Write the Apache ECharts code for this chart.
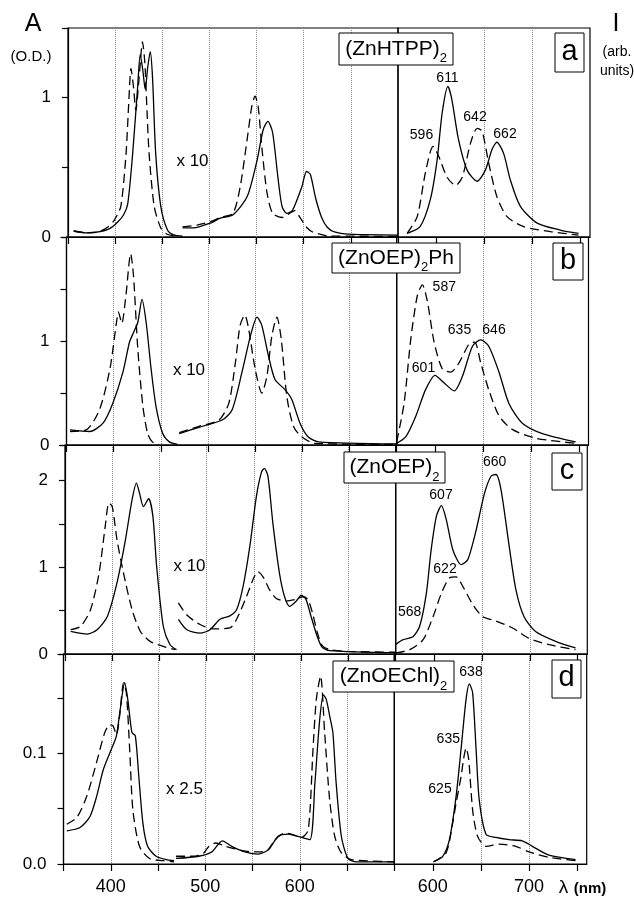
<!DOCTYPE html>
<html><head><meta charset="utf-8">
<script src="https://cdn.jsdelivr.net/npm/echarts@6/dist/echarts.min.js"></script>
<style>html,body{margin:0;padding:0;background:#fff}#c{width:634px;height:899px}</style>
</head><body><div id="c"></div><script>
// ---------- tick / label values ----------
const leftXTicks = [400, 450, 500, 550, 600, 650];
const leftXLabels = [400, 500, 600];
const rightXTicks = [600, 650, 700, 750];
const rightXLabels = [600, 700];
const yLabelsA = [0, 1];
const yLabelsB = [0, 1];
const yLabelsC = [0, 1, 2];
const yLabelsD = [0, 0.1];

// ---------- panel a: (ZnHTPP)2 ----------
const aSoretSolid = [[356,0.043],[369,0.03],[382,0.036],[394,0.06],[403,0.11],[409,0.16],[413.4,0.24],[418.6,0.6],[423.9,1.08],[426.6,1.31],[429.3,1.2],[431.9,1.06],[434.6,1.22],[437.2,1.33],[439.6,1.15],[443,0.6],[448.4,0.22],[455.5,0.05],[462,0.015],[471.5,0.007]];
const aSoretDashed = [[356,0.043],[369,0.03],[382,0.036],[392,0.07],[399,0.12],[406,0.22],[411.6,0.6],[414.4,0.96],[416.8,1.21],[419.4,1.08],[422,0.91],[425.5,1.15],[429,1.40],[431.5,1.25],[433.5,0.95],[436,0.6],[441.4,0.22],[448.4,0.065],[455,0.02],[467,0.003]];
const aQSolid = [[471.5,0.065],[483,0.065],[501,0.10],[511.6,0.135],[525,0.16],[540,0.29],[550.5,0.55],[557,0.77],[562,0.83],[567,0.75],[572.6,0.43],[577,0.22],[582,0.17],[588,0.19],[598,0.36],[603,0.47],[607,0.45],[612.6,0.28],[619,0.14],[625,0.07],[632.6,0.036],[648,0.02],[700,0.014]];
const aQDashed = [[471.5,0.072],[487,0.086],[501,0.11],[511.6,0.14],[525,0.17],[532.6,0.36],[540,0.70],[545,0.94],[548.4,1.01],[551.6,0.94],[555.8,0.63],[561,0.32],[567,0.17],[577,0.14],[585,0.17],[590.5,0.19],[596,0.14],[603,0.07],[609.5,0.036],[627,0.007],[700,0.005]];
const aEmSolid = [[569.5,0.026],[583,0.074],[593.7,0.27],[600.7,0.55],[606,0.89],[612,1.08],[616,0.99],[623,0.70],[632,0.48],[642.4,0.40],[651,0.48],[658,0.63],[663,0.68],[670,0.60],[677,0.41],[687.5,0.22],[705,0.10],[729,0.05],[748,0.026]];
const aEmDashed = [[569.5,0.026],[580,0.146],[588.5,0.46],[596.5,0.65],[602.4,0.58],[611,0.43],[620,0.37],[627,0.43],[635.4,0.67],[642.4,0.78],[647.6,0.76],[654.5,0.53],[663,0.29],[673.6,0.146],[691,0.074],[719,0.038],[748,0.014]];

// ---------- panel b: (ZnOEP)2Ph ----------
const bSoretSolid = [[353.7,0.146],[374.7,0.13],[388.7,0.21],[399,0.40],[409.8,0.70],[416.8,0.99],[421,1.08],[425.6,1.18],[430,1.40],[434.4,1.18],[439.7,0.73],[444.9,0.37],[452,0.11],[459,0.03],[467.7,0.006]];
const bSoretDashed = [[353.7,0.13],[371,0.146],[385,0.34],[396,0.73],[403,1.18],[405,1.28],[408.6,1.17],[413,1.44],[418,1.84],[421,1.63],[425.6,0.92],[431,0.37],[436,0.11],[441,0.03],[448,0.006]];
const bQSolid = [[469.5,0.11],[490.5,0.17],[515,0.24],[525.6,0.34],[536,0.70],[545,1.05],[552,1.23],[557,1.15],[564,0.86],[571,0.63],[581.8,0.53],[588.7,0.44],[597.5,0.21],[606,0.08],[617,0.03],[700,0.01]];
const bQDashed = [[469.5,0.12],[490.5,0.18],[511.6,0.24],[522,0.40],[529,0.79],[534,1.15],[539,1.25],[543,1.12],[550,0.73],[557,0.50],[562.4,0.66],[567.7,1.05],[573,1.23],[577.6,1.02],[583.5,0.47],[590.5,0.18],[599,0.08],[613,0.016],[700,0.005]];
const bEmSolid = [[560,0.016],[569.5,0.08],[580,0.28],[590,0.53],[600,0.67],[609,0.60],[620,0.52],[628.5,0.66],[639,0.95],[647.6,1.01],[656,0.95],[666.7,0.70],[677,0.40],[691,0.21],[712,0.11],[746.6,0.03]];
const bEmDashed = [[560,0.03],[567.7,0.40],[574.7,1.02],[581.6,1.44],[586.8,1.54],[592,1.38],[599,0.99],[607.6,0.73],[616.4,0.70],[625,0.79],[635.4,0.97],[641.3,0.99],[647.6,0.79],[656,0.53],[666.7,0.28],[680.5,0.15],[705,0.065],[746.6,0.016]];

// ---------- panel c: (ZnOEP)2 ----------
const cSoretSolid = [[356,0.26],[373.7,0.23],[384,0.28],[394.7,0.43],[405,0.82],[414,1.32],[421,1.78],[425.6,1.97],[429,1.85],[433,1.70],[438.5,1.79],[443,1.59],[447,1.01],[454,0.32],[461,0.11],[468,0.05]];
const cSoretDashed = [[356,0.28],[366.6,0.32],[377,0.51],[386,0.93],[393,1.51],[396.4,1.74],[400,1.70],[405,1.32],[412,0.93],[421,0.51],[429.8,0.26],[440,0.146],[454,0.088],[466.6,0.05]];
const cQSolid = [[470,0.40],[479,0.28],[493,0.24],[503.5,0.28],[514,0.40],[524.5,0.44],[531.6,0.51],[538.5,0.78],[545.6,1.24],[552.6,1.82],[558,2.10],[561,2.14],[564.8,2.05],[570,1.51],[577,0.93],[582.4,0.66],[587.7,0.55],[594.7,0.61],[600,0.68],[605,0.63],[610.5,0.43],[617,0.20],[622,0.08],[630,0.04],[700,0.015]];
const cQDashed = [[470,0.59],[479,0.45],[493,0.34],[507,0.29],[524.5,0.30],[531.6,0.40],[542,0.66],[549,0.86],[554,0.95],[559.6,0.89],[566.6,0.74],[573.7,0.64],[584,0.61],[594.7,0.63],[601.7,0.66],[607,0.63],[612,0.47],[617,0.25],[622,0.10],[630,0.05],[650,0.03],[700,0.02]];
const cEmSolid = [[560,0.11],[567.8,0.165],[578,0.20],[585,0.32],[592,0.70],[597,1.20],[602.5,1.59],[607.7,1.71],[612.8,1.55],[619.7,1.20],[628.4,1.03],[635.3,1.09],[644,1.43],[652.6,1.85],[659.5,2.05],[664.7,2.07],[670,1.89],[678.5,1.24],[685.5,0.74],[694,0.43],[706,0.26],[727,0.146],[747.7,0.07]];
const cEmDashed = [[560,0.012],[574.8,0.05],[588.6,0.165],[599,0.43],[607.7,0.70],[616.3,0.88],[623,0.89],[630,0.78],[640.5,0.57],[650.8,0.43],[664.7,0.38],[682,0.30],[699,0.18],[720,0.107],[747.7,0.05]];

// ---------- panel d: (ZnOEChl)2 ----------
const dSoretSolid = [[353.5,0.03],[367.5,0.033],[378,0.043],[385,0.061],[392,0.085],[400.7,0.104],[406,0.116],[410,0.14],[414.7,0.164],[418,0.149],[422.4,0.119],[426,0.116],[429.7,0.079],[434,0.037],[439,0.016],[448,0.007],[458.5,0.004],[467,0.003]];
const dSoretDashed = [[353.5,0.036],[364,0.042],[374.5,0.061],[385,0.092],[393.7,0.119],[399,0.126],[402.4,0.125],[406,0.117],[409.4,0.134],[413.6,0.164],[416.5,0.155],[420,0.104],[423.4,0.049],[430.4,0.016],[441,0.005],[455,0.003],[467,0.002]];
const dQSolid = [[469,0.005],[493,0.007],[507,0.011],[518,0.021],[528,0.016],[542,0.011],[556,0.009],[567,0.013],[577,0.025],[588,0.027],[598,0.025],[610.6,0.022],[616,0.073],[621,0.13],[625,0.153],[628,0.149],[631.6,0.134],[635,0.119],[638.5,0.073],[644,0.025],[651,0.005],[660,0.002],[700,0.002]];
const dQDashed = [[469,0.007],[486,0.007],[497,0.009],[504,0.016],[511,0.019],[521.4,0.016],[535,0.013],[549,0.011],[563.4,0.011],[574,0.022],[584,0.028],[595,0.026],[601.8,0.024],[609,0.031],[614,0.104],[617.5,0.149],[622,0.170],[626.3,0.119],[631.6,0.058],[637,0.025],[644,0.01],[654.5,0.004],[700,0.002]];
const dEmSolid = [[600.7,0.002],[610.4,0.007],[617.3,0.022],[624.2,0.061],[629.4,0.104],[634.6,0.149],[638,0.163],[641.4,0.155],[645,0.104],[648.3,0.058],[655.3,0.027],[665.6,0.024],[679.4,0.022],[693,0.021],[703.5,0.016],[720.8,0.008],[748.4,0.004]];
const dEmDashed = [[600.7,0.002],[613.8,0.01],[620.7,0.037],[624.2,0.055],[629.4,0.079],[632,0.095],[634.6,0.105],[637.3,0.095],[641.4,0.049],[646.6,0.025],[655.3,0.016],[669,0.018],[686.3,0.016],[700,0.011],[720.8,0.006],[748.4,0.003]];

// ---------- layout ----------
const FONT = 'Liberation Sans, Arial, sans-serif';
const panels = [
  {L:68,   D:398,   R:590,   T:28,  B:237, yMax:1.5,  yInt:0.5,  yLab:yLabelsA, dec:0,
   s:[aSoretSolid,aSoretDashed,aQSolid,aQDashed], e:[aEmSolid,aEmDashed]},
  {L:66.5, D:396.7, R:588.5, T:237, B:445, yMax:2.0,  yInt:0.5,  yLab:yLabelsB, dec:0,
   s:[bSoretSolid,bSoretDashed,bQSolid,bQDashed], e:[bEmSolid,bEmDashed]},
  {L:65,   D:395.7, R:587.3, T:445, B:654, yMax:2.41, yInt:0.5,  yLab:yLabelsC, dec:0,
   s:[cSoretSolid,cSoretDashed,cQSolid,cQDashed], e:[cEmSolid,cEmDashed]},
  {L:63.5, D:394.3, R:586.7, T:654, B:864, yMax:0.19, yInt:0.05, yLab:yLabelsD, dec:1,
   s:[dSoretSolid,dSoretDashed,dQSolid,dQDashed], e:[dEmSolid,dEmDashed]}
];

const grid = [], xAxis = [], yAxis = [], series = [];
const lineSolid = {color:'#000', width:1.3, type:'solid'};
const lineDash = {color:'#000', width:1.3, type:[9,5]};
function inList(v, list){ return list.some(t => Math.abs(t - v) < 1e-6); }

panels.forEach((p, i) => {
  const last = i === panels.length - 1;
  grid.push({left:p.L, top:p.T, width:p.D - p.L, height:p.B - p.T, show:true, borderColor:'#000', borderWidth:1.2, backgroundColor:'transparent'});
  grid.push({left:p.D, top:p.T, width:p.R - p.D, height:p.B - p.T, show:true, borderColor:'#000', borderWidth:1.2, backgroundColor:'transparent'});
  const gl = 2*i, gr = 2*i + 1;
  xAxis.push({gridIndex:gl, type:'value', min:350, max:700, interval:50,
    axisLine:{show:true, onZero:false, lineStyle:{color:'#000', width:1.2}},
    axisTick:{show:true, inside:false, length:7, lineStyle:{color:'#000', width:1.2}},
    axisLabel:{show:last, margin:14, fontSize:18, color:'#000', fontFamily:FONT,
      formatter: v => inList(v, leftXLabels) ? String(v) : ''},
    splitLine:{show:true, showMinLine:false, showMaxLine:false, lineStyle:{type:'dotted', color:'#888', width:1}}
  });
  xAxis.push({gridIndex:gr, type:'value', min:560, max:760,
    axisLine:{show:true, onZero:false, lineStyle:{color:'#000', width:1.2}},
    axisTick:{show:true, inside:false, length:7, customValues:rightXTicks, lineStyle:{color:'#000', width:1.2}},
    axisLabel:{show:last, margin:14, fontSize:18, color:'#000', fontFamily:FONT, customValues:rightXLabels,
      formatter: v => inList(v, rightXLabels) ? String(v) : ''},
    splitLine:{show:true, showMinLine:false, showMaxLine:false, lineStyle:{type:'dotted', color:'#888', width:1}}
  });
  yAxis.push({gridIndex:gl, type:'value', min:0, max:p.yMax, interval:p.yInt,
    axisLine:{show:true, onZero:false, lineStyle:{color:'#000', width:1.2}},
    axisTick:{show:true, inside:false, length:6, lineStyle:{color:'#000', width:1.2}},
    axisLabel:{show:true, margin:17, fontSize:17, color:'#000', fontFamily:FONT,
      formatter: v => inList(v, p.yLab) ? v.toFixed(p.dec) : ''},
    splitLine:{show:false}
  });
  yAxis.push({gridIndex:gr, type:'value', min:0, max:p.yMax, show:false, splitLine:{show:false}});
  p.s.forEach((d, k) => {
    series.push({type:'line', xAxisIndex:gl, yAxisIndex:gl, data:d, showSymbol:false, smooth:0.25,
      clip:true, silent:true, lineStyle:(k % 2 === 0) ? lineSolid : lineDash});
  });
  p.e.forEach((d, k) => {
    series.push({type:'line', xAxisIndex:gr, yAxisIndex:gr, data:d, showSymbol:false, smooth:0.25,
      clip:true, silent:true, lineStyle:(k === 0) ? lineSolid : lineDash});
  });
});

// ---------- annotations ----------
function txt(x, y, text, size, extra){
  return Object.assign({type:'text', x:x, y:y, z:100, style:Object.assign({text:text, fontSize:size, fontFamily:FONT,
    fill:'#000', align:'center', verticalAlign:'middle', textAlign:'center', textVerticalAlign:'middle'}, extra || {})});
}
function nameBox(x0, y0, x1, y1, main, sub, tail){
  const cx = (x0 + x1)/2, cy = (y0 + y1)/2;
  return [
    {type:'rect', z:90, shape:{x:x0, y:y0, width:x1 - x0, height:y1 - y0}, style:{fill:'#fff', stroke:'#000', lineWidth:1}},
    {type:'text', x:cx, y:cy, z:100, style:{
      text:'{m|' + main + '}{s|' + sub + '}' + (tail ? '{m|' + tail + '}' : ''),
      align:'center', verticalAlign:'middle', textAlign:'center', textVerticalAlign:'middle',
      rich:{m:{fontSize:21, fontFamily:FONT, fill:'#000', lineHeight:32, verticalAlign:'middle'},
            s:{fontSize:13, fontFamily:FONT, fill:'#000', lineHeight:12, verticalAlign:'bottom'}}}}
  ];
}
function letterBox(x0, y0, x1, y1, letter){
  return [
    {type:'rect', z:90, shape:{x:x0, y:y0, width:x1 - x0, height:y1 - y0}, style:{fill:'#fff', stroke:'#000', lineWidth:1}},
    txt((x0 + x1)/2, (y0 + y1)/2 - 1, letter, 29)
  ];
}

const graphic = [].concat(
  [txt(33, 24, 'A', 25), txt(31, 57, '(O.D.)', 15),
   txt(616, 24, 'I', 25), txt(617, 52, '(arb.', 14), txt(617, 71, 'units)', 14)],
  nameBox(339, 33, 453, 65, '(ZnHTPP)', '2'),
  nameBox(332, 243, 460, 273, '(ZnOEP)', '2', 'Ph'),
  nameBox(344, 452, 445, 483, '(ZnOEP)', '2'),
  nameBox(333, 661, 454, 692, '(ZnOEChl)', '2'),
  letterBox(555, 33, 584, 72, 'a'),
  letterBox(553, 243, 583, 280, 'b'),
  letterBox(552, 453, 582, 490, 'c'),
  letterBox(552, 660, 581, 698, 'd'),
  [txt(192.5, 161.5, 'x 10', 17), txt(189, 370, 'x 10', 17), txt(189.5, 566.5, 'x 10', 17), txt(184.5, 789, 'x 2.5', 17)],
  [txt(447.5, 78, '611', 14), txt(421.5, 135, '596', 14), txt(475, 117, '642', 14), txt(505, 134, '662', 14)],
  [txt(444.3, 287.5, '587', 14), txt(459.5, 330.5, '635', 14), txt(494, 330.5, '646', 14), txt(423.5, 368, '601', 14)],
  [txt(494.7, 462.5, '660', 14), txt(441, 495.5, '607', 14), txt(445, 569.5, '622', 14), txt(409.7, 612.5, '568', 14)],
  [txt(471, 672.5, '638', 14), txt(448.3, 739.5, '635', 14), txt(440, 789, '625', 14)],
  [txt(563.5, 888, 'λ', 19), txt(590, 889, '(nm)', 15, {fontWeight:'bold'})]
);

const chart = echarts.init(document.getElementById('c'), null, {renderer:'canvas'});
chart.setOption({animation:false, backgroundColor:'#fff', grid, xAxis, yAxis, series, graphic});
</script></body></html>
